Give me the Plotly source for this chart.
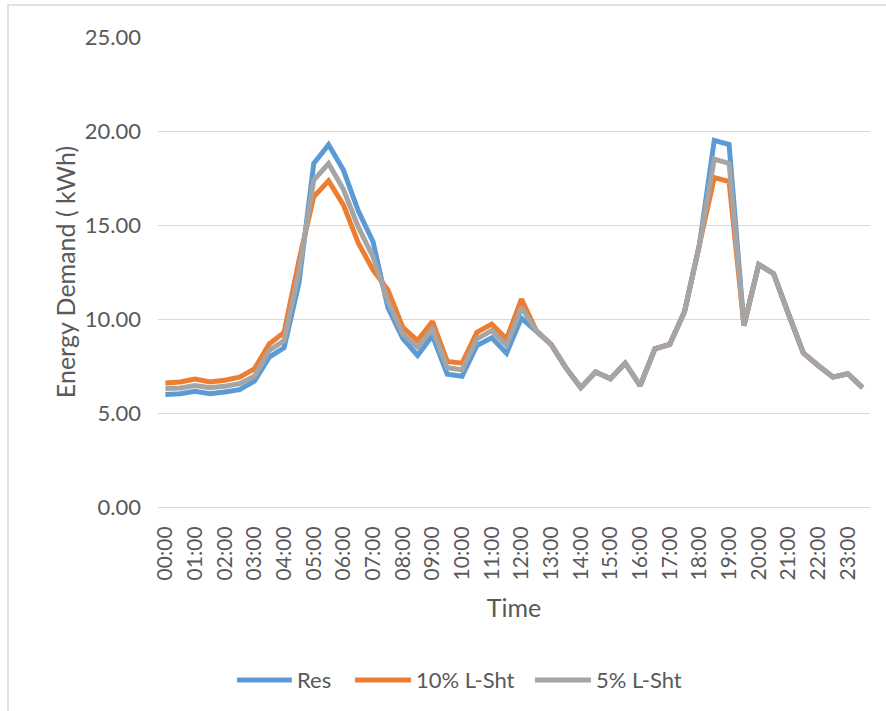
import plotly.graph_objects as go

# Half-hourly time slots across one day
times = [f"{h:02d}:{m:02d}" for h in range(24) for m in (0, 30)]
hour_ticks = [f"{h:02d}:00" for h in range(24)]

# Energy demand per half hour (kWh)
res = [5.98, 6.03, 6.15, 6.03, 6.12, 6.24, 6.70, 7.97, 8.47, 11.90,
       18.27, 19.27, 17.92, 15.75, 14.10, 10.60, 8.97, 8.06, 9.12, 7.06,
       6.95, 8.59, 9.00, 8.18, 10.05, 9.38, 8.65, 7.40, 6.35, 7.18,
       6.82, 7.65, 6.45, 8.41, 8.65, 10.40, 13.95, 19.50, 19.28, 9.65,
       12.90, 12.41, 10.26, 8.20, 7.53, 6.91, 7.09, 6.35]

lsht_10 = [6.60, 6.65, 6.80, 6.65, 6.74, 6.91, 7.35, 8.67, 9.29, 13.10,
           16.50, 17.35, 16.07, 14.05, 12.60, 11.55, 9.56, 8.85, 9.87, 7.74,
           7.65, 9.29, 9.73, 8.94, 11.06, 9.38, 8.65, 7.40, 6.35, 7.18,
           6.82, 7.65, 6.45, 8.41, 8.65, 10.40, 13.95, 17.52, 17.31, 9.65,
           12.90, 12.41, 10.26, 8.20, 7.53, 6.91, 7.09, 6.35]

lsht_5 = [6.30, 6.33, 6.46, 6.35, 6.42, 6.56, 6.95, 8.33, 8.85, 12.50,
          17.39, 18.27, 16.90, 14.90, 13.30, 10.95, 9.20, 8.50, 9.47, 7.41,
          7.30, 8.94, 9.38, 8.60, 10.60, 9.38, 8.65, 7.40, 6.35, 7.18,
          6.82, 7.65, 6.45, 8.41, 8.65, 10.40, 13.95, 18.50, 18.28, 9.65,
          12.90, 12.41, 10.26, 8.20, 7.53, 6.91, 7.09, 6.35]

series_names = ["Res", "10% L-Sht", "5% L-Sht"]
series_values = [res, lsht_10, lsht_5]
series_colors = ["#5B9BD5", "#ED7D31", "#A5A5A5"]

FONT = "Lato, 'Open Sans', sans-serif"
TEXT = "#595959"
GRID = "#D9D9D9"

fig = go.Figure()
for name, vals, color in zip(series_names, series_values, series_colors):
    fig.add_trace(go.Scatter(
        x=times, y=vals, name=name, mode="lines",
        line=dict(color=color, width=5), showlegend=False,
    ))

# Legend drawn below the axis title: swatch line + label for each series
legend_y = -0.368
legend_slots = [(0.111, 0.188), (0.2767, 0.3553), (0.5295, 0.6081)]
shapes = [dict(
    type="rect", xref="paper", yref="paper",
    x0=-0.2107, x1=1.2, y0=-0.6, y1=1.068,
    line=dict(color=GRID, width=1.5), fillcolor="rgba(0,0,0,0)", layer="below",
)]
annotations = []
for (x0, x1), name, color in zip(legend_slots, series_names, series_colors):
    shapes.append(dict(
        type="line", xref="paper", yref="paper",
        x0=x0, x1=x1, y0=legend_y, y1=legend_y,
        line=dict(color=color, width=5),
    ))
    annotations.append(dict(
        xref="paper", yref="paper", x=x1 + 0.004, y=legend_y,
        xanchor="left", yanchor="middle", text=name, showarrow=False,
        font=dict(size=22, color=TEXT),
    ))

fig.update_layout(
    width=886, height=711,
    margin=dict(l=158, r=16, t=37, b=204),
    paper_bgcolor="white", plot_bgcolor="white",
    font=dict(family=FONT, size=22, color=TEXT),
    showlegend=False,
    xaxis=dict(
        type="category", categoryorder="array", categoryarray=times,
        range=[-0.5, len(times) - 0.5],
        tickmode="array", tickvals=hour_ticks, ticktext=hour_ticks,
        tickangle=-90, tickfont=dict(size=21, color=TEXT),
        showgrid=False, showline=True, linecolor=GRID, linewidth=1,
        ticks="", ticklabelstandoff=10,
        title=dict(text="Time", font=dict(size=25, color=TEXT), standoff=20),
    ),
    yaxis=dict(
        range=[0, 25], dtick=5, tickformat=".2f",
        showgrid=True, gridcolor=GRID, gridwidth=1, zeroline=False,
        showline=False, ticks="", ticklabelstandoff=16,
        tickfont=dict(size=22, color=TEXT),
        title=dict(text="Energy Demand ( kWh)", font=dict(size=25, color=TEXT), standoff=2),
    ),
    shapes=shapes,
    annotations=annotations,
)

fig.write_html("out.html")
